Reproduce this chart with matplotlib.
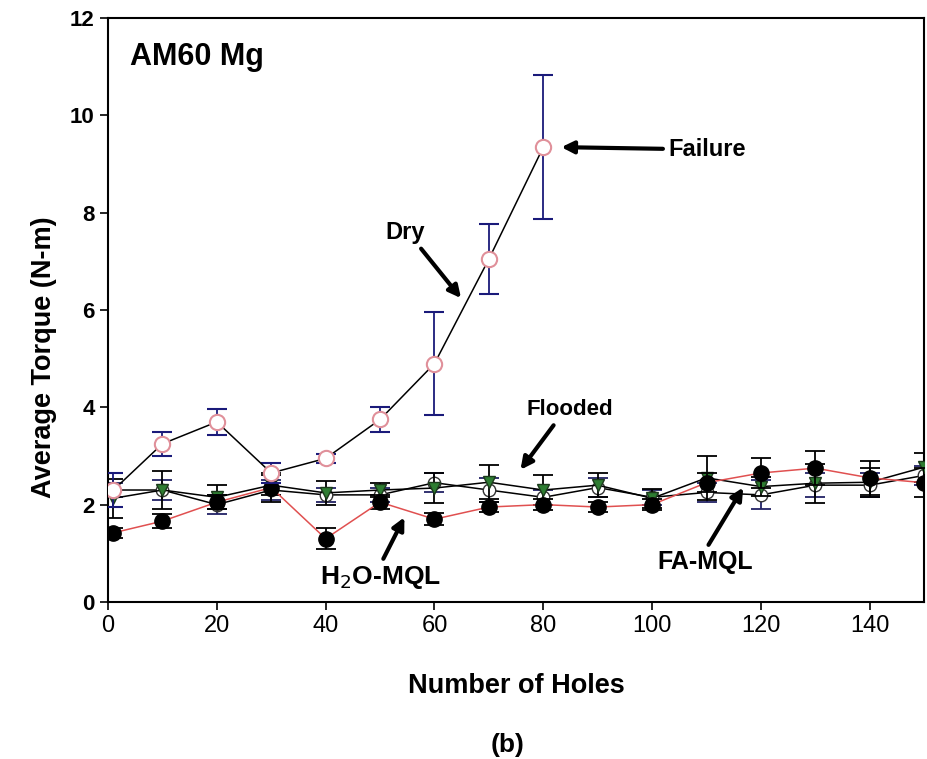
import matplotlib.pyplot as plt
import numpy as np

# hole counts
holes_dry = [1, 10, 20, 30, 40, 50, 60, 70, 80]
holes = [1, 10, 20, 30, 40, 50, 60, 70, 80, 90, 100, 110, 120, 130, 140, 150]

# Dry
dry_y = [2.3, 3.25, 3.7, 2.65, 2.95, 3.75, 4.9, 7.05, 9.35]
dry_err = [0.35, 0.25, 0.27, 0.2, 0.1, 0.25, 1.05, 0.72, 1.48]

# H2O-MQL
h2o_y = [1.42, 1.66, 2.05, 2.35, 1.3, 2.05, 1.7, 1.95, 2.0, 1.95, 2.0, 2.45, 2.65, 2.75, 2.55, 2.45]
h2o_err = [0.1, 0.15, 0.15, 0.3, 0.22, 0.15, 0.12, 0.1, 0.12, 0.1, 0.12, 0.2, 0.3, 0.35, 0.35, 0.3]

# Flooded
flood_y = [2.13, 2.3, 2.15, 2.4, 2.24, 2.3, 2.34, 2.46, 2.3, 2.4, 2.13, 2.55, 2.37, 2.44, 2.46, 2.77]
flood_err = [0.4, 0.4, 0.25, 0.2, 0.25, 0.15, 0.3, 0.35, 0.3, 0.25, 0.2, 0.45, 0.2, 0.4, 0.3, 0.3]

# FA-MQL
fa_y = [2.3, 2.3, 2.0, 2.3, 2.2, 2.2, 2.45, 2.3, 2.15, 2.35, 2.15, 2.25, 2.2, 2.4, 2.4, 2.6]
fa_err = [0.15, 0.2, 0.2, 0.2, 0.15, 0.15, 0.2, 0.25, 0.15, 0.2, 0.15, 0.2, 0.3, 0.25, 0.25, 0.2]

plt.rcParams['font.family'] = ['Liberation Sans', 'DejaVu Sans']

fig = plt.figure(figsize=(9.27, 7.59), dpi=100)
ax = fig.add_axes([0.1165, 0.207, 0.8805, 0.769])

ebkw = dict(capsize=7, elinewidth=1.3, capthick=1.3)

# FA-MQL (open circles, black line)
ax.errorbar(holes, fa_y, yerr=fa_err, color='black', lw=1.1, marker='o', ms=9,
            mfc='white', mec='#333333', ecolor='#222266', **ebkw, zorder=2)
# Flooded (green down triangles, black line)
ax.errorbar(holes, flood_y, yerr=flood_err, color='black', lw=1.1, marker='v', ms=9,
            mfc='#2e7d32', mec='#1b3a1b', ecolor='black', **ebkw, zorder=3)
# H2O-MQL (black filled circles, red line)
ax.errorbar(holes, h2o_y, yerr=h2o_err, color='#e05050', lw=1.1, marker='o', ms=11,
            mfc='black', mec='black', ecolor='black', **ebkw, zorder=4)
# Dry (open pink circles, black line)
ax.errorbar(holes_dry, dry_y, yerr=dry_err, color='black', lw=1.1, marker='o', ms=11,
            mfc='white', mec='#e0909a', mew=1.5, ecolor='#1a1a7a', **ebkw, zorder=5)

ax.set_xlim(0, 150)
ax.set_ylim(0, 12)
ax.set_xticks(np.arange(0, 150, 20))
ax.set_yticks(np.arange(0, 13, 2))
ax.tick_params(direction='out', length=6, width=1.2)
for lbl in ax.get_yticklabels():
    lbl.set_fontweight('bold')
    lbl.set_fontsize(16)
for lbl in ax.get_xticklabels():
    lbl.set_fontsize(17)
for sp in ax.spines.values():
    sp.set_linewidth(1.5)

ax.set_ylabel('Average Torque (N-m)', fontsize=19.5, fontweight='bold')
ax.yaxis.set_label_coords(-0.063, 0.42)
ax.set_xlabel('Number of Holes', fontsize=19.5, fontweight='bold', labelpad=26)
fig.text(0.547, 0.003, '(b)', fontsize=19, fontweight='bold', ha='center', va='bottom')

ax.text(4, 11.2, 'AM60 Mg', fontsize=22, fontweight='bold', va='center')

arw = dict(arrowstyle='-|>', color='black', lw=3, mutation_scale=18)
ax.annotate('Failure', xy=(82.8, 9.35), xytext=(103, 9.3), fontsize=17, fontweight='bold',
            va='center', arrowprops=arw)
ax.annotate('Dry', xy=(65.2, 6.2), xytext=(51, 7.6), fontsize=17, fontweight='bold',
            va='center', arrowprops=dict(arw, relpos=(0.8, 0)))
ax.annotate('Flooded', xy=(75.5, 2.67), xytext=(77, 3.95), fontsize=16, fontweight='bold',
            va='center', arrowprops=dict(arw, relpos=(0.35, 0)))
ax.annotate('H$_2$O-MQL', xy=(54.7, 1.79), xytext=(39, 0.5), fontsize=19, fontweight='bold',
            va='center', arrowprops=dict(arw, relpos=(0.5, 1)))
ax.annotate('FA-MQL', xy=(117, 2.4), xytext=(101, 0.82), fontsize=18, fontweight='bold',
            va='center', arrowprops=dict(arw, relpos=(0.5, 1)))

fig.savefig('out.png', dpi=100)
